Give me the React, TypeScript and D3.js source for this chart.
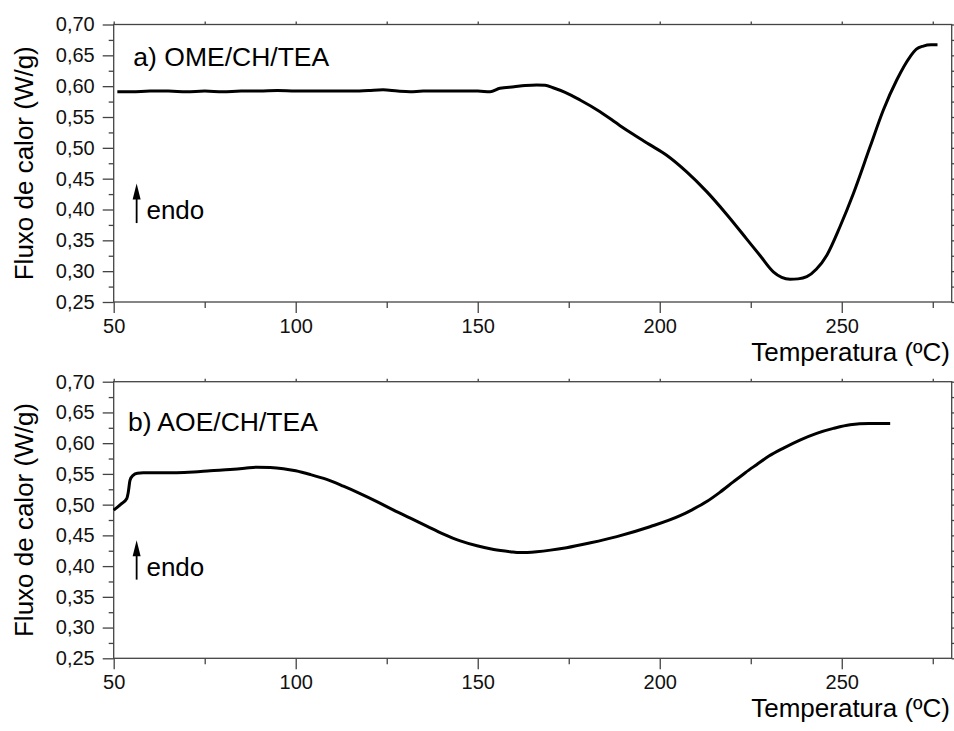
import React, { useRef, useEffect } from "react";
import * as d3 from "d3";

// a) OME/CH/TEA
const tempA = [51, 55, 60, 65, 70, 75, 80, 85, 90, 95, 100, 105, 110, 115, 120, 124, 128, 131.4, 135, 140, 145, 150, 153.4, 156.1, 160, 163, 166.2, 168.5, 170.7, 174, 178.1, 183.6, 189.1, 192.7, 197, 201.9, 207.4, 212.9, 218.4, 223.9, 227.6, 231.2, 233.5, 235.8, 238, 240.4, 243, 245.9, 249.5, 253.2, 257.8, 261.4, 265.1, 268.8, 270.5, 272.4, 274.5, 276.3];
const fluxA = [0.591, 0.591, 0.592, 0.592, 0.591, 0.592, 0.591, 0.592, 0.592, 0.593, 0.592, 0.592, 0.592, 0.592, 0.593, 0.594, 0.592, 0.591, 0.592, 0.592, 0.592, 0.592, 0.591, 0.5965, 0.599, 0.601, 0.602, 0.6015, 0.5975, 0.59, 0.5776, 0.5586, 0.536, 0.522, 0.506, 0.488, 0.461, 0.429, 0.392, 0.352, 0.325, 0.299, 0.29, 0.287, 0.2875, 0.291, 0.303, 0.326, 0.372, 0.426, 0.502, 0.561, 0.61, 0.648, 0.66, 0.665, 0.667, 0.667];

// b) AOE/CH/TEA
const tempB = [50, 52, 53.6, 54.0, 54.5, 55.4, 56.5, 58.1, 62, 67.3, 72, 76.5, 82, 86, 89.3, 93, 96.6, 100, 104, 108.5, 113.1, 117.7, 122.3, 126.9, 131.5, 136, 140.6, 145.2, 149.8, 154.4, 158.9, 161.6, 166.2, 170, 174.4, 181, 188.2, 197.3, 205.6, 209, 212.9, 216.5, 220.2, 223.5, 226.6, 230, 234, 238.5, 243.1, 247.7, 252.3, 257.5, 263.3];
const fluxB = [0.491, 0.501, 0.51, 0.52, 0.54, 0.548, 0.551, 0.552, 0.552, 0.552, 0.553, 0.555, 0.557, 0.559, 0.561, 0.5605, 0.5585, 0.555, 0.549, 0.541, 0.53, 0.518, 0.505, 0.491, 0.478, 0.465, 0.452, 0.441, 0.433, 0.427, 0.4235, 0.422, 0.4235, 0.426, 0.43, 0.438, 0.448, 0.464, 0.482, 0.492, 0.505, 0.52, 0.537, 0.552, 0.565, 0.579, 0.592, 0.605, 0.616, 0.624, 0.63, 0.632, 0.632];

const xMajor = [50, 100, 150, 200, 250];
const xMinor = [75, 125, 175, 225, 275];
const yMajor = [0.25, 0.3, 0.35, 0.4, 0.45, 0.5, 0.55, 0.6, 0.65, 0.7];
const yMinor = [0.275, 0.325, 0.375, 0.425, 0.475, 0.525, 0.575, 0.625, 0.675];

const panels = [
  { title: "a) OME/CH/TEA", temp: tempA, flux: fluxA, top: 24.5, bottom: 302, titleAt: [55.4, 0.633] },
  { title: "b) AOE/CH/TEA", temp: tempB, flux: fluxB, top: 381.7, bottom: 658.3, titleAt: [53.9, 0.619] },
];

const FONT = "'Liberation Sans', Arial, Helvetica, sans-serif";
const AXIS = "#444";

const App = () => {
  const ref = useRef<SVGSVGElement>(null);

  useEffect(() => {
    const svg = d3.select(ref.current);
    svg.selectAll("*").remove();

    const left = 113.7;
    const right = 951.7;
    const x = d3.scaleLinear().domain([50, 280.2]).range([left, right]);
    const fmt = (d: any) => d3.format(".2f")(d).replace(".", ",");

    panels.forEach((p) => {
      const y = d3.scaleLinear().domain([0.25, 0.7]).range([p.bottom, p.top]);
      const g = svg.append("g");

      // frame
      g.append("rect")
        .attr("x", left)
        .attr("y", p.top)
        .attr("width", right - left)
        .attr("height", p.bottom - p.top)
        .attr("fill", "none")
        .attr("stroke", AXIS)
        .attr("stroke-width", 1.3);

      const styleAxis = (sel: any) => {
        sel.select(".domain").remove();
        sel.selectAll("line").attr("stroke", AXIS).attr("stroke-width", 1.3);
        sel.selectAll("text").attr("font-family", FONT).attr("font-size", 20).attr("fill", "#111");
      };

      // bottom
      g.append("g")
        .attr("transform", `translate(0,${p.bottom})`)
        .call(d3.axisBottom(x).tickValues(xMajor).tickSize(11).tickPadding(6).tickFormat(d3.format("d")))
        .call(styleAxis);
      g.append("g")
        .attr("transform", `translate(0,${p.bottom})`)
        .call(d3.axisBottom(x).tickValues(xMinor).tickSize(6).tickFormat(() => ""))
        .call(styleAxis);
      // top
      g.append("g")
        .attr("transform", `translate(0,${p.top})`)
        .call(d3.axisTop(x).tickValues([...xMajor, ...xMinor]).tickSize(3).tickFormat(() => ""))
        .call(styleAxis);
      // left
      g.append("g")
        .attr("transform", `translate(${left},0)`)
        .call(d3.axisLeft(y).tickValues(yMajor).tickSize(11).tickPadding(8).tickFormat(fmt))
        .call(styleAxis);
      g.append("g")
        .attr("transform", `translate(${left},0)`)
        .call(d3.axisLeft(y).tickValues(yMinor).tickSize(5).tickFormat(() => ""))
        .call(styleAxis);
      // right
      g.append("g")
        .attr("transform", `translate(${right},0)`)
        .call(d3.axisRight(y).tickValues([...yMajor, ...yMinor]).tickSize(3).tickFormat(() => ""))
        .call(styleAxis);

      // axis titles
      g.append("text")
        .attr("transform", `translate(33,${(p.top + p.bottom) / 2}) rotate(-90)`)
        .attr("text-anchor", "middle")
        .attr("font-family", FONT)
        .attr("font-size", 26)
        .text("Fluxo de calor (W/g)");
      g.append("text")
        .attr("x", 950)
        .attr("y", p.bottom + 59)
        .attr("text-anchor", "end")
        .attr("font-family", FONT)
        .attr("font-size", 26)
        .text("Temperatura (ºC)");

      // panel title
      g.append("text")
        .attr("x", x(p.titleAt[0]))
        .attr("y", y(p.titleAt[1]))
        .attr("font-family", FONT)
        .attr("font-size", 26.5)
        .text(p.title);

      // endo arrow
      const ax = x(56.3);
      const tip = y(0.442);
      g.append("line")
        .attr("x1", ax)
        .attr("x2", ax)
        .attr("y1", y(0.378))
        .attr("y2", tip + 10)
        .attr("stroke", "black")
        .attr("stroke-width", 1.8);
      g.append("path")
        .attr("d", `M${ax},${tip} L${ax - 4},${tip + 16} L${ax + 4},${tip + 16} Z`)
        .attr("fill", "black");
      g.append("text")
        .attr("x", x(59))
        .attr("y", y(0.384))
        .attr("font-family", FONT)
        .attr("font-size", 26)
        .text("endo");

      // DSC curve
      const line = d3
        .line<number>()
        .x((d) => x(d))
        .y((d, i) => y(p.flux[i]))
        .curve(d3.curveMonotoneX);
      g.append("path")
        .attr("d", line(p.temp))
        .attr("fill", "none")
        .attr("stroke", "black")
        .attr("stroke-width", 3)
        .attr("stroke-linejoin", "round");
    });
  }, []);

  return (
    <svg
      ref={ref}
      width={954}
      height={731}
      style={{ position: "absolute", left: 0, top: 0, background: "white" }}
    ></svg>
  );
};

export default App;
